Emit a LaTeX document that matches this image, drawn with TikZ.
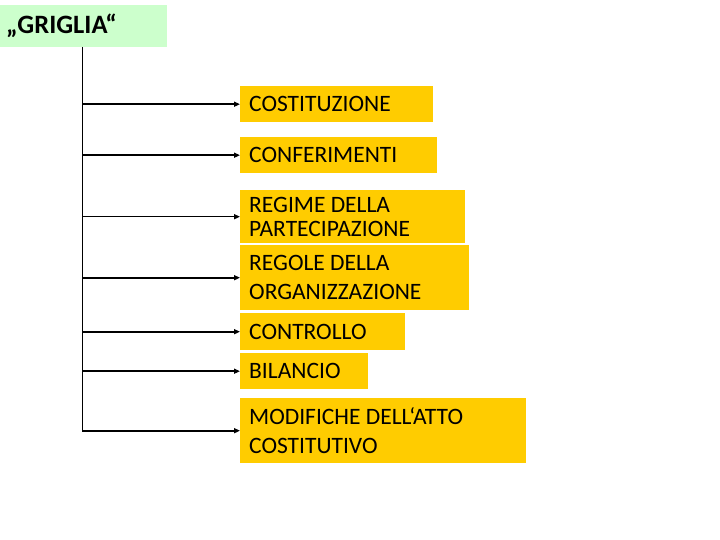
\documentclass[tikz,border=0pt]{standalone}
\usepackage{fontspec}
\setmainfont{Carlito}
\usetikzlibrary{arrows.meta}
\definecolor{boxyellow}{HTML}{FFCC00}
\definecolor{titlegreen}{HTML}{CCFFCC}
\tikzset{
  box/.style={fill=boxyellow, inner xsep=9pt, inner ysep=0pt, anchor=north west, align=flush left},
  one/.style={font=\fontsize{23.5}{24}\selectfont},
  two/.style={font=\fontsize{23.5}{29}\selectfont},
  conn/.style={line width=1.6pt, -{Triangle[length=6pt,width=5pt]}},
  spine/.style={line width=1pt}
}
\begin{document}
\begin{tikzpicture}[x=1pt,y=-1pt]
\useasboundingbox (0,0) rectangle (720,540);
\node[fill=titlegreen, anchor=north west, minimum width=167pt, minimum height=42pt, inner xsep=6pt, inner ysep=0pt, align=flush left, text width=155pt, font=\fontsize{26.5}{30}\selectfont\bfseries] (title) at (0,5) {„GRIGLIA“};
\coordinate (top) at (82,47);
\coordinate (bot) at (82,430);
\node[box, one, text width=175pt, minimum height=36pt] (b1) at (240,86) {COSTITUZIONE};
\node[box, one, text width=179pt, minimum height=36pt] (b2) at (240,137) {CONFERIMENTI};
\node[box, one, text width=207pt, minimum height=53pt] (b3) at (240,190) {REGIME DELLA\\PARTECIPAZIONE};
\node[box, two, text width=211pt, minimum height=65pt] (b4) at (240,245) {REGOLE DELLA\\ORGANIZZAZIONE};
\node[box, one, text width=147pt, minimum height=37pt] (b5) at (240,313) {CONTROLLO};
\node[box, one, text width=110pt, minimum height=36pt] (b6) at (240,353) {BILANCIO};
\node[box, two, text width=268pt, minimum height=65pt] (b7) at (240,398) {MODIFICHE DELL‘ATTO\\COSTITUTIVO};
\draw[spine] (top) -- (bot);
\foreach \b in {b1,b2,b3,b4,b5,b6,b7}{
  \draw[conn] (top |- \b.west) -- (\b.west);
}
\end{tikzpicture}
\end{document}
